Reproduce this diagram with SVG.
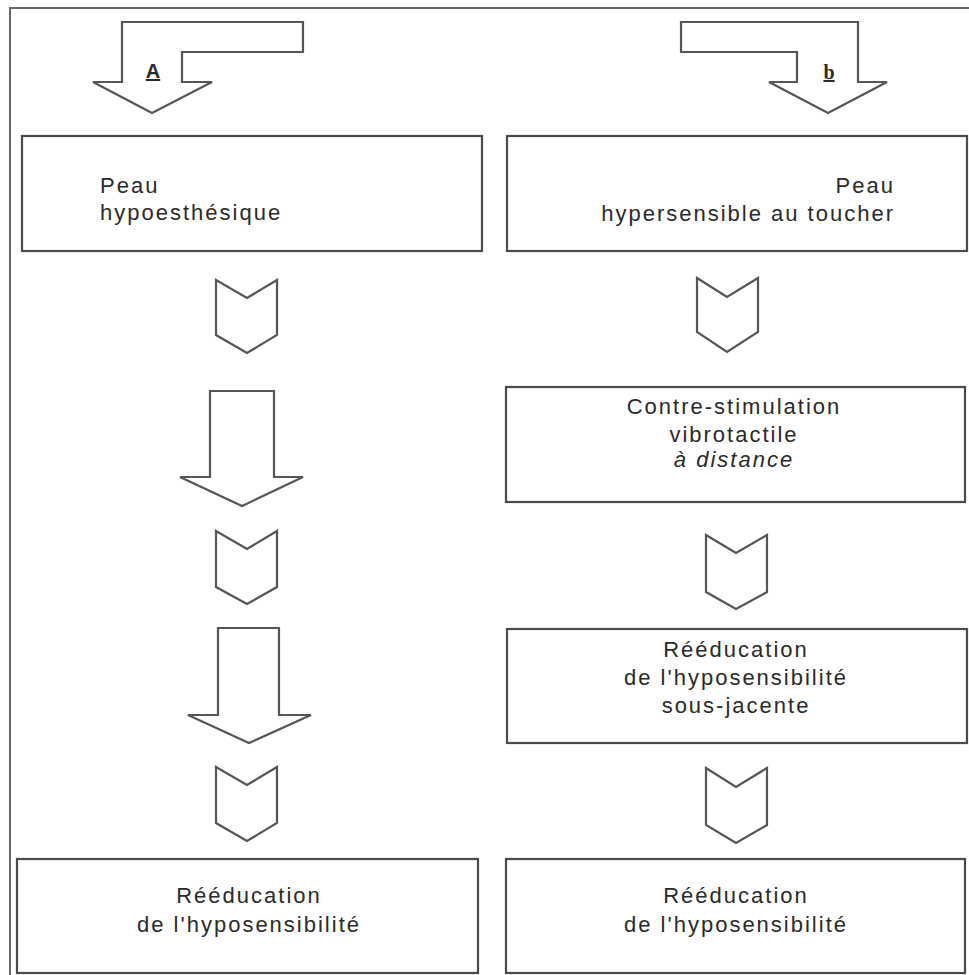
<svg xmlns="http://www.w3.org/2000/svg" width="969" height="975" viewBox="0 0 969 975">
<style>
.frame{fill:none;stroke:#666;stroke-width:2}
.box{fill:#fff;stroke:#4a4a4a;stroke-width:2.2}
.arr{fill:#fff;stroke:#555;stroke-width:2.2;stroke-linejoin:miter}
.t{font-family:"Liberation Sans",Arial,sans-serif;font-size:22px;fill:#2a2a2a;letter-spacing:2px}
.c{text-anchor:middle}
.lbl{font-size:20px;font-weight:bold;fill:#2a2a2a;text-decoration:underline}
</style>
<rect width="969" height="975" fill="#fff"/>
<path class="frame" d="M10,975 V8 H969"/>
<g id="connectors">
<polygon class="arr" points="122,22 303,22 303,52 182,52 182,82 212,82 152,113 93,82 122,82"/>
<text class="lbl" x="153" y="78" text-anchor="middle" font-family="Liberation Sans, Arial, sans-serif">A</text>
<polygon class="arr" points="858,22 681,22 681,52 797,52 797,82 769,82 828,113 887,82 858,82"/>
<text class="lbl" x="829" y="79" text-anchor="middle" font-family="Liberation Serif, Times New Roman, serif">b</text>
<polygon class="arr" points="216,280 247,298 277,280 277,335 247,353 216,335"/>
<polygon class="arr" points="210,391 274,391 274,477 303,477 242,506 180,477 210,477"/>
<polygon class="arr" points="216,531 247,549 277,531 277,587 247,604 216,587"/>
<polygon class="arr" points="218,628 279,628 279,715 311,715 249,743 188,715 218,715"/>
<polygon class="arr" points="216,767 247,785 277,767 277,823 247,841 216,823"/>
<polygon class="arr" points="697,278 727,297 758,278 758,332 727,352 697,332"/>
<polygon class="arr" points="706,535 736,553 767,535 767,592 736,609 706,592"/>
<polygon class="arr" points="706,768 736,787 767,768 767,825 736,843 706,825"/>
</g>
<g id="n-peau-hypo">
<rect class="box" x="22" y="136" width="460" height="115"/>
<text class="t" x="100" y="193">Peau</text>
<text class="t" x="100" y="220">hypoesthésique</text>
</g>
<g id="n-peau-hyper">
<rect class="box" x="507" y="136" width="460" height="115"/>
<text class="t" x="895" y="193" text-anchor="end">Peau</text>
<text class="t" x="895" y="221" text-anchor="end">hypersensible  au toucher</text>
</g>
<g id="n-contre">
<rect class="box" x="506" y="387" width="459" height="115"/>
<text class="t c" x="734" y="414">Contre-stimulation</text>
<text class="t c" x="734" y="442">vibrotactile</text>
<text class="t c" x="734" y="467" font-style="italic">à distance</text>
</g>
<g id="n-reed-sous">
<rect class="box" x="507" y="629" width="460" height="114"/>
<text class="t c" x="736" y="657">Rééducation</text>
<text class="t c" x="736" y="685">de l'hyposensibilité</text>
<text class="t c" x="736" y="713">sous-jacente</text>
</g>
<g id="n-reed-left">
<rect class="box" x="17" y="859" width="461" height="114"/>
<text class="t c" x="249" y="903">Rééducation</text>
<text class="t c" x="249" y="932">de l'hyposensibilité</text>
</g>
<g id="n-reed-right">
<rect class="box" x="506" y="859" width="459" height="114"/>
<text class="t c" x="736" y="903">Rééducation</text>
<text class="t c" x="736" y="932">de l'hyposensibilité</text>
</g>
</svg>
